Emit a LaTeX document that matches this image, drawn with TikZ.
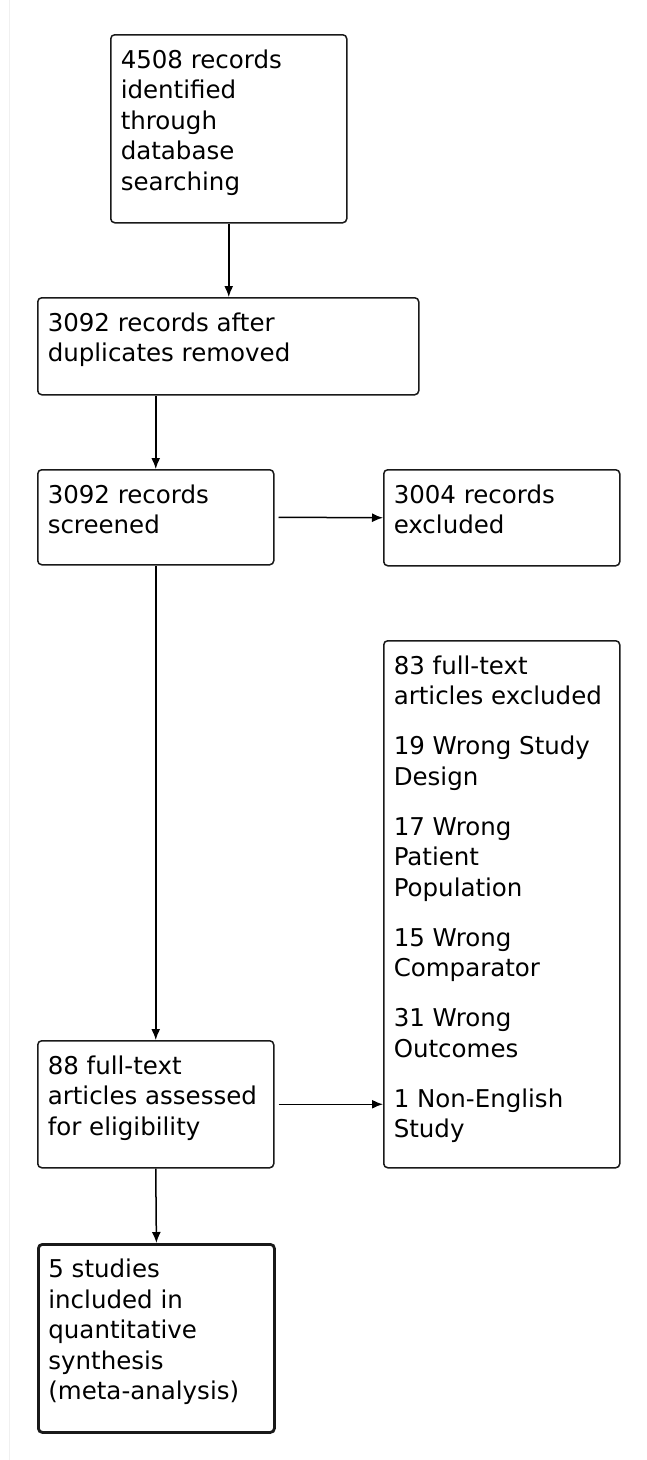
\documentclass[tikz,border=0pt]{standalone}
\usepackage{fontspec}
\setmainfont{DejaVu Sans}
\usetikzlibrary{arrows.meta}
\newcommand\boxtext[3]{\parbox[c][#2pt][t]{\dimexpr#1pt-20pt\relax}{\setlength{\parskip}{19.5pt}\raggedright\rule{0pt}{33.5pt}#3}}
\tikzset{
  flowbox/.style={draw=black!90, line width=1.5pt, rounded corners=4pt, inner xsep=10pt, inner ysep=0pt,
    anchor=north west, text=black, font=\fontsize{24.5}{30.5}\selectfont},
  finalbox/.style={flowbox, line width=2.8pt},
  flowarrow/.style={draw=black, line width=1.5pt, -{Latex[length=11pt,width=9pt]}}
}
\begin{document}
\begin{tikzpicture}[x=1pt,y=-1pt]
\useasboundingbox (0,0) rectangle (647,1460);
\fill[white] (0,0) rectangle (647,1460);
\draw[black!6, line width=1pt] (9,0) -- (9,1460);

\node[flowbox] (b1) at (110,34) {\boxtext{236}{188}{4508 records\\identified\\through\\database\\searching}};
\node[flowbox] (b2) at (37,297) {\boxtext{381}{97}{3092 records after\\duplicates removed}};
\node[flowbox] (b3) at (37,469) {\boxtext{236}{95}{3092 records\\screened}};
\node[flowbox] (b4) at (383,469) {\boxtext{236}{96}{3004 records\\excluded}};
\node[flowbox] (b5) at (383,640) {\boxtext{236}{527}{83 full-text\\articles excluded\par
19 Wrong Study\\Design\par
17 Wrong\\Patient\\Population\par
15 Wrong\\Comparator\par
31 Wrong\\Outcomes\par
1 Non-English\\Study}};
\node[flowbox] (b6) at (37,1040) {\boxtext{236}{127}{88 full-text\\articles assessed\\for eligibility}};
\node[finalbox] (b7) at (37,1243) {\boxtext{236}{188}{5 studies\\included in\\quantitative\\synthesis\\(meta-analysis)}};

\draw[flowarrow] (b1.south) -- (b1.south |- b2.north);
\draw[flowarrow] (b3.north |- b2.south) -- (b3.north);
\draw[flowarrow] (b3.south) -- (b6.north);
\draw[flowarrow, shorten <=4pt] (b3.east) -- (b4.west);
\draw[flowarrow, shorten <=4pt] (b6.east) -- (b5.west |- b6.east);
\draw[flowarrow] (b6.south) -- (b7.north);
\end{tikzpicture}
\end{document}
